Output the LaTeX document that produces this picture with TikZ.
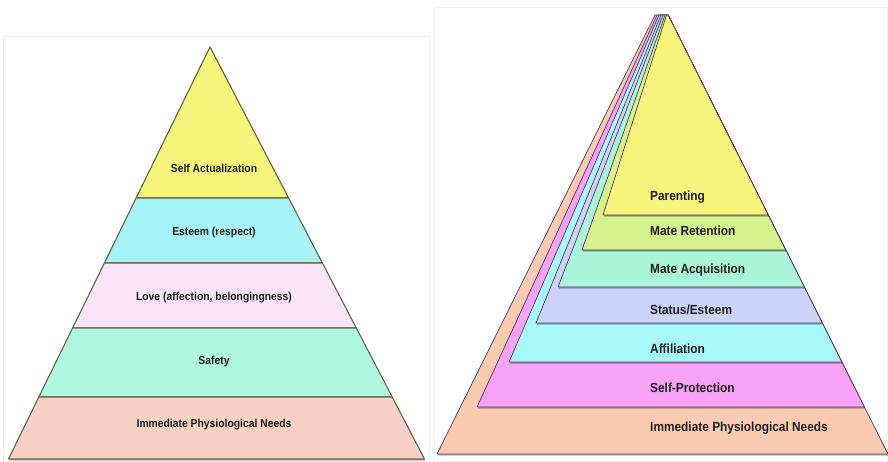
\documentclass[tikz,border=0pt]{standalone}
\usepackage{fontspec}
\usetikzlibrary{shadows}
\newfontfamily\labfont[FakeStretch=0.9]{Liberation Sans}
\begin{document}
\begin{tikzpicture}[x=1pt,y=-1pt,
  panel/.style={draw=gray!12,line width=0.8pt},
  bandshadow/.style={drop shadow={shadow xshift=0.8pt,shadow yshift=-1.6pt,opacity=0.3,fill=black}},
  lband/.style={draw=black!55!olive!70!gray,line width=1.1pt,line join=round,bandshadow},
  rband/.style={draw=black!45!violet!60!gray,line width=0.7pt,line join=round,bandshadow},
  ltext/.style={font=\labfont\bfseries\fontsize{11.5}{12}\selectfont,text=black!88,inner sep=0pt},
  rtext/.style={font=\labfont\bfseries\fontsize{13.2}{14}\selectfont,text=black!88,inner sep=0pt,anchor=west}]
\definecolor{cyellow}{HTML}{F6F47A}
\definecolor{ccyan}{HTML}{A6F4F7}
\definecolor{clove}{HTML}{F8E4F6}
\definecolor{cmint}{HTML}{B0F7DF}
\definecolor{cpink}{HTML}{F8D0C8}
\definecolor{rpeach}{HTML}{F9CBB0}
\definecolor{rmagenta}{HTML}{F7A1F7}
\definecolor{rcyan}{HTML}{A6FAFA}
\definecolor{rlav}{HTML}{CBD3F7}
\definecolor{rmint}{HTML}{A8F5D9}
\definecolor{rlime}{HTML}{D6F28C}
\definecolor{ryellow}{HTML}{F6F47C}
\useasboundingbox (0,0) rectangle (888,462);
\fill[white] (0,0) rectangle (888,462);
% panel frames
\draw[panel] (3,36) rectangle (429,461);
\draw[panel] (434,7) rectangle (887,461);

% left pyramid, Maslow
\filldraw[lband,fill=cyellow] (210,47) -- (288.6,198) -- (136.1,198) -- cycle;
\filldraw[lband,fill=ccyan] (136.1,198) -- (288.6,198) -- (322.4,263) -- (104.4,263) -- cycle;
\filldraw[lband,fill=clove] (104.4,263) -- (322.4,263) -- (356.3,328) -- (72.6,328) -- cycle;
\filldraw[lband,fill=cmint] (72.6,328) -- (356.3,328) -- (392.2,397) -- (38.8,397) -- cycle;
\filldraw[lband,fill=cpink] (38.8,397) -- (392.2,397) -- (424.5,459) -- (8.5,459) -- cycle;
\node[ltext] (l1) at (214,168) {Self Actualization};
\node[ltext] (l2) at (214,233) {Esteem (respect)};
\node[ltext] (l3) at (214,298) {Love (affection, belongingness)};
\node[ltext] (l4) at (214,362) {Safety};
\node[ltext] (l5) at (214,425) {Immediate Physiological Needs};

% right pyramid, overlapping layers drawn from the bottom up
\filldraw[rband,fill=rpeach]   (655,15) -- (668,15) -- (888,454) -- (437,454) -- cycle;
\filldraw[rband,fill=rmagenta] (657,15) -- (668,15) -- (864.4,407) -- (477,407) -- cycle;
\filldraw[rband,fill=rcyan]    (659,15) -- (668,15) -- (841.8,362) -- (509,362) -- cycle;
\filldraw[rband,fill=rlav]     (661,15) -- (668,15) -- (822.3,323) -- (536,323) -- cycle;
\filldraw[rband,fill=rmint]    (663,15) -- (668,15) -- (804.3,287) -- (558,287) -- cycle;
\filldraw[rband,fill=rlime]    (665,15) -- (668,15) -- (785.7,250) -- (582,250) -- cycle;
\filldraw[rband,fill=ryellow]  (666.5,15) -- (668,15) -- (768.2,215) -- (603,215) -- cycle;
\node[rtext] (r1) at (650,197) {Parenting};
\node[rtext] (r2) at (650,231) {Mate Retention};
\node[rtext] (r3) at (650,270) {Mate Acquisition};
\node[rtext] (r4) at (650,310) {Status/Esteem};
\node[rtext] (r5) at (650,349) {Affiliation};
\node[rtext] (r6) at (650,388) {Self-Protection};
\node[rtext] (r7) at (650,428) {Immediate Physiological Needs};
\end{tikzpicture}
\end{document}
